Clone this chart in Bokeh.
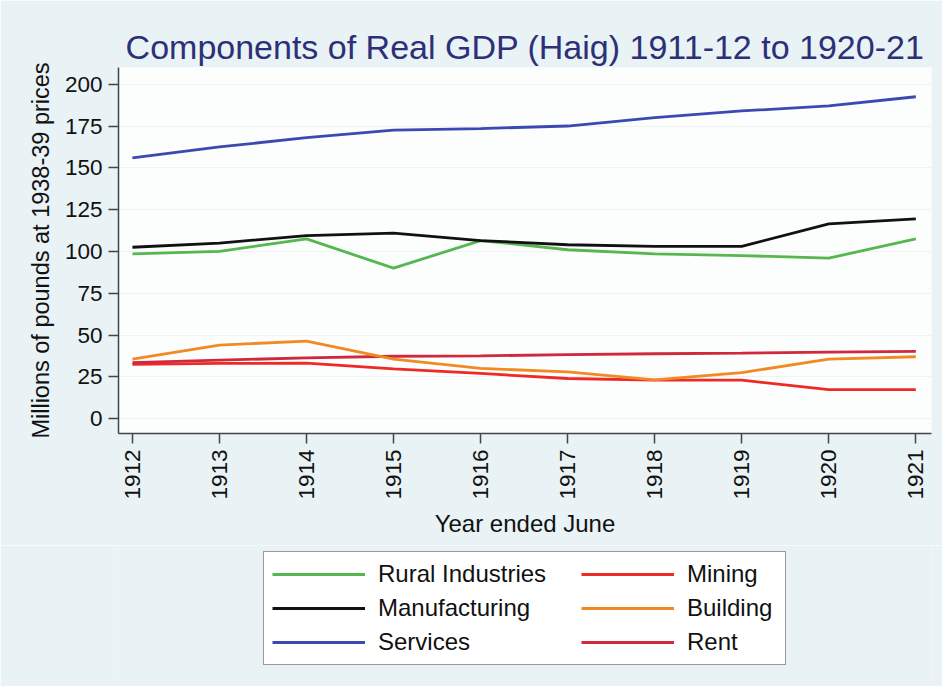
from bokeh.plotting import figure
from bokeh.models import Range1d, FixedTicker, Legend, LegendItem
from bokeh.layouts import column
from bokeh.embed import file_html
from bokeh.resources import INLINE
import math, glob

years = [1912, 1913, 1914, 1915, 1916, 1917, 1918, 1919, 1920, 1921]
rural = [98.5, 100, 107.5, 90, 106.5, 101, 98.5, 97.5, 96, 107.5]
manufacturing = [102.5, 105, 109.5, 111, 106.5, 104, 103, 103, 116.5, 119.5]
services = [156, 162.5, 168, 172.5, 173.5, 175, 180, 184, 187, 192.5]
mining = [32.5, 33, 33.2, 29.7, 27, 24, 23, 23, 17.3, 17.3]
building = [35.6, 44, 46.3, 35.6, 30, 28, 23.2, 27.5, 35.6, 37]
rent = [33.5, 35, 36.3, 37.3, 37.5, 38.3, 38.8, 39.2, 39.8, 40.2]
y_ticks = [0, 25, 50, 75, 100, 125, 150, 175, 200]

FONT = "Liberation Sans"
BG = "#e9f2f4"

narrow_files = []
for pat in ["/usr/share/fonts/**/LiberationSansNarrow-Regular*", "/usr/local/share/fonts/**/LiberationSansNarrow-Regular*"]:
    narrow_files += glob.glob(pat, recursive=True)
if narrow_files:
    TITLE_FONT, TITLE_SIZE = "Liberation Sans Narrow", "40px"
else:
    TITLE_FONT, TITLE_SIZE = FONT, "34px"

p = figure(width=942, height=545, output_backend="svg", toolbar_location=None,
           x_range=Range1d(1911.84, 1921.18), y_range=Range1d(-8.9, 210),
           min_border_left=118, min_border_right=11, min_border_top=67, min_border_bottom=112)

p.background_fill_color = "#fcfdfd"
p.border_fill_color = BG
p.outline_line_color = None

p.title.text = "Components of Real GDP (Haig) 1911-12 to 1920-21"
p.title.align = "center"
p.title.text_font = TITLE_FONT
p.title.text_font_size = TITLE_SIZE
p.title.text_font_style = "normal"
p.title.text_color = "#2d3076"
p.title.standoff = 3

p.xgrid.grid_line_color = None
p.ygrid.grid_line_color = "#eef3f4"

for ax in (p.xaxis[0], p.yaxis[0]):
    ax.axis_line_color = "#444444"
    ax.axis_line_width = 1.5
    ax.major_tick_line_color = "#444444"
    ax.major_tick_line_width = 1.5
    ax.major_tick_out = 10
    ax.major_tick_in = 0
    ax.minor_tick_line_color = None
    ax.major_label_text_font = FONT
    ax.major_label_text_font_size = "22.5px"
    ax.major_label_text_color = "#111111"
    ax.axis_label_text_font = FONT
    ax.axis_label_text_font_style = "normal"
    ax.axis_label_text_color = "#111111"

p.xaxis.ticker = FixedTicker(ticks=years)
p.xaxis.major_label_orientation = math.pi / 2
p.xaxis.major_label_standoff = 6
p.xaxis.axis_label = "Year ended June"
p.xaxis.axis_label_text_font_size = "24px"
p.xaxis.axis_label_standoff = 7

p.yaxis.ticker = FixedTicker(ticks=y_ticks)
p.yaxis.major_label_standoff = 6
p.yaxis.axis_label = "Millions of pounds at 1938-39 prices"
p.yaxis.axis_label_text_font_size = "23.5px"
p.yaxis.axis_label_standoff = 8

series = [
    ("Rural Industries", rural, "#55b74d"),
    ("Manufacturing", manufacturing, "#111111"),
    ("Services", services, "#3a4ab2"),
    ("Mining", mining, "#ee2a24"),
    ("Building", building, "#f28a24"),
    ("Rent", rent, "#d0283c"),
]
LW = 2.8
draw_order = [3, 5, 4, 0, 1, 2]
for i in draw_order:
    name, vals, col = series[i]
    p.line(years, vals, line_color=col, line_width=LW)

# legend panel below the chart (its own view range keeps the key lines out of sight)
q = figure(width=942, height=141, output_backend="svg", toolbar_location=None,
           x_axis_type=None, y_axis_type=None,
           x_range=Range1d(0, 1), y_range=Range1d(0, 1),
           min_border_left=118, min_border_right=11, min_border_top=0, min_border_bottom=0)
q.background_fill_color = BG
q.border_fill_color = BG
q.outline_line_color = None
q.xgrid.visible = False
q.ygrid.visible = False

keys = {}
for i, (name, vals, col) in enumerate(series):
    keys[i] = q.line(years, vals, line_color=col, line_width=LW)

common = dict(orientation="vertical", glyph_width=93, glyph_height=20, label_standoff=13,
              spacing=6, label_text_font=FONT, label_text_font_size="24px",
              label_text_color="#111111", label_height=28, padding=8, margin=0)

leg_a = Legend(items=[LegendItem(label=series[i][0], renderers=[keys[i]]) for i in range(3)],
               location=(145, 21), label_width=399,
               border_line_color="#333333", border_line_width=1.5,
               background_fill_color="white", background_fill_alpha=1.0, **common)
leg_b = Legend(items=[LegendItem(label=series[i][0], renderers=[keys[i]]) for i in range(3, 6)],
               location=(463, 30), border_line_color=None,
               background_fill_alpha=0.0, **common)
q.add_layout(leg_a, "center")
q.add_layout(leg_b, "center")

layout = column(p, q, spacing=0)
open("out.html", "w").write(file_html(layout, INLINE))
